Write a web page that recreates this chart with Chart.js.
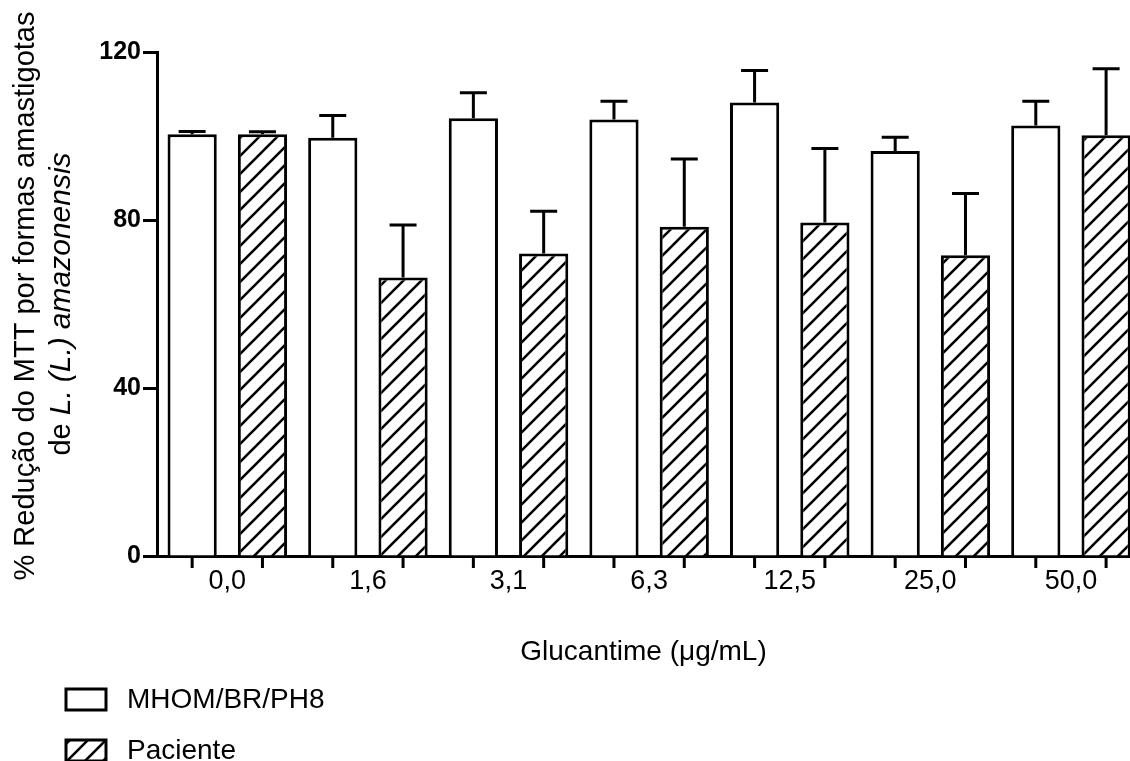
<!DOCTYPE html>
<html>
<head>
<meta charset="utf-8">
<script src="https://cdn.jsdelivr.net/npm/chart.js@4.4.1/dist/chart.umd.min.js"></script>
<style>
  html, body { margin: 0; padding: 0; background: #fff; }
  #chart { display: block; }
</style>
</head>
<body>
<canvas id="chart" width="1130" height="761"></canvas>
<script>
// Glucantime concentrations (µg/mL)
const concentrations = ['0,0', '1,6', '3,1', '6,3', '12,5', '25,0', '50,0'];

// % MTT reduction, mean and upper error
const mhom = [100.4, 99.6, 104.2, 103.9, 108.0, 96.4, 102.5];
const mhomErr = [0.7, 5.3, 6.1, 4.4, 7.6, 3.3, 5.8];
const paciente = [100.4, 66.3, 72.0, 78.4, 79.4, 71.6, 100.2];
const pacienteErr = [0.6, 12.5, 10.1, 16.1, 17.6, 14.7, 15.8];

const yTicks = [0, 40, 80, 120];

const FONT = "'Liberation Sans', Arial, Helvetica, sans-serif";
Chart.defaults.font.family = FONT;
Chart.defaults.color = '#000';

// each concentration gets two bar slots: strain first, patient isolate second
const barSlots = concentrations.flatMap((c, i) => [2 * i, 2 * i + 1]);

function makeHatch() {
    const s = 18;
    const c = document.createElement('canvas');
    c.width = s;
    c.height = s;
    const g = c.getContext('2d');
    g.fillStyle = '#fff';
    g.fillRect(0, 0, s, s);
    g.strokeStyle = '#000';
    g.lineWidth = 2.6;
    g.beginPath();
    g.moveTo(-2, s + 2); g.lineTo(s + 2, -2);
    g.moveTo(-2, 2); g.lineTo(2, -2);
    g.moveTo(s - 2, s + 2); g.lineTo(s + 2, s - 2);
    g.stroke();
    return g.createPattern(c, 'repeat');
}
const hatch = makeHatch();

const errorBars = {
    id: 'errorBars',
    afterDatasetsDraw(chart) {
        const ctx = chart.ctx;
        const y = chart.scales.y;
        ctx.save();
        ctx.strokeStyle = '#000';
        ctx.lineWidth = 3;
        chart.data.datasets.forEach((ds, i) => {
            chart.getDatasetMeta(i).data.forEach((bar, j) => {
                const top = y.getPixelForValue(ds.data[j].y + ds.errors[j]);
                ctx.beginPath();
                ctx.moveTo(bar.x, bar.y);
                ctx.lineTo(bar.x, top);
                ctx.moveTo(bar.x - 13.5, top);
                ctx.lineTo(bar.x + 13.5, top);
                ctx.stroke();
            });
        });
        ctx.restore();
    }
};

// tick marks under every bar, drawn from the x scale
const barTicks = {
    id: 'barTicks',
    afterDraw(chart) {
        const ctx = chart.ctx;
        const x = chart.scales.x;
        const base = chart.chartArea.bottom;
        ctx.save();
        ctx.strokeStyle = '#000';
        ctx.lineWidth = 3;
        ctx.beginPath();
        barSlots.forEach(v => {
            const px = x.getPixelForValue(v);
            ctx.moveTo(px, base);
            ctx.lineTo(px, base + 12);
        });
        ctx.stroke();
        ctx.restore();
    }
};

// rotated two-line y title with italic species name
const yTitle = {
    id: 'yTitle',
    afterDraw(chart) {
        const ctx = chart.ctx;
        const normal = '29px ' + FONT;
        const italic = 'italic 30px ' + FONT;
        ctx.save();
        ctx.fillStyle = '#000';
        ctx.textBaseline = 'middle';

        ctx.save();
        ctx.translate(26, 296);
        ctx.rotate(-Math.PI / 2);
        ctx.font = normal;
        ctx.textAlign = 'center';
        ctx.fillText('% Redução do MTT por formas amastigotas', 0, 0);
        ctx.restore();

        const parts = [
            ['de ', normal], ['L.', italic], [' ', normal],
            ['(L.)', italic], [' ', normal], ['amazonensis', italic]
        ];
        let total = 0;
        parts.forEach(p => { ctx.font = p[1]; total += ctx.measureText(p[0]).width; });
        ctx.save();
        ctx.translate(62, 304);
        ctx.rotate(-Math.PI / 2);
        ctx.textAlign = 'left';
        let x = -total / 2;
        parts.forEach(p => {
            ctx.font = p[1];
            ctx.fillText(p[0], x, 0);
            x += ctx.measureText(p[0]).width;
        });
        ctx.restore();
        ctx.restore();
    }
};

const legendBox = {
    id: 'legendBox',
    afterDraw(chart) {
        const ctx = chart.ctx;
        ctx.save();
        ctx.lineWidth = 3;
        ctx.strokeStyle = '#000';
        ctx.font = '28px ' + FONT;
        ctx.textBaseline = 'middle';
        chart.data.datasets.forEach((ds, i) => {
            const top = 689 + i * 51;
            ctx.fillStyle = ds.backgroundColor;
            ctx.fillRect(66, top, 40, 21);
            ctx.strokeRect(66, top, 40, 21);
            ctx.fillStyle = '#000';
            ctx.fillText(ds.label, 127, top + 11);
        });
        ctx.restore();
    }
};

const ctx = document.getElementById('chart').getContext('2d');

new Chart(ctx, {
    type: 'bar',
    data: {
        datasets: [
            {
                label: 'MHOM/BR/PH8',
                data: mhom.map((v, i) => ({ x: barSlots[2 * i], y: v })),
                errors: mhomErr,
                backgroundColor: '#ffffff',
                borderColor: '#000',
                borderWidth: 3,
                stack: 'a'
            },
            {
                label: 'Paciente',
                data: paciente.map((v, i) => ({ x: barSlots[2 * i + 1], y: v })),
                errors: pacienteErr,
                backgroundColor: hatch,
                borderColor: '#000',
                borderWidth: 3,
                stack: 'a'
            }
        ]
    },
    options: {
        responsive: false,
        animation: false,
        barPercentage: 0.7,
        categoryPercentage: 1,
        layout: {
            padding: { top: 52, right: 0, bottom: 92, left: 0 }
        },
        plugins: {
            legend: { display: false },
            tooltip: { enabled: false }
        },
        scales: {
            x: {
                type: 'linear',
                min: -0.5,
                max: 13.34,
                offset: false,
                stacked: true,
                afterBuildTicks: s => { s.ticks = barSlots.map(v => ({ value: v })); },
                afterFit: s => { s.height = 12; },
                ticks: { display: false, autoSkip: false },
                grid: { display: false, drawTicks: false, offset: false },
                border: { color: '#000', width: 3 }
            },
            x2: {
                type: 'linear',
                position: 'bottom',
                weight: 1,
                min: -0.5,
                max: 13.34,
                offset: false,
                afterBuildTicks: s => { s.ticks = concentrations.map((c, i) => ({ value: 2 * i + 0.5 })); },
                afterFit: s => { s.height = 101; },
                grid: { display: false, drawTicks: false },
                border: { display: false },
                ticks: {
                    color: '#000',
                    font: { size: 27, lineHeight: 1 },
                    padding: 0,
                    maxRotation: 0,
                    autoSkip: false,
                    callback: (v, i) => concentrations[i]
                },
                title: {
                    display: true,
                    text: 'Glucantime (μg/mL)',
                    color: '#000',
                    font: { size: 28 },
                    padding: { top: 0, bottom: 0 }
                }
            },
            y: {
                min: 0,
                max: 120,
                stacked: false,
                afterFit: s => { s.width = 157; },
                afterBuildTicks: s => { s.ticks = yTicks.map(v => ({ value: v })); },
                ticks: {
                    color: '#000',
                    padding: 2,
                    font: { size: 25, weight: 'bold' }
                },
                grid: { drawOnChartArea: false, tickLength: 14, tickColor: '#000', tickWidth: 3 },
                border: { color: '#000', width: 3 }
            }
        }
    },
    plugins: [errorBars, barTicks, yTitle, legendBox]
});
</script>
</body>
</html>
